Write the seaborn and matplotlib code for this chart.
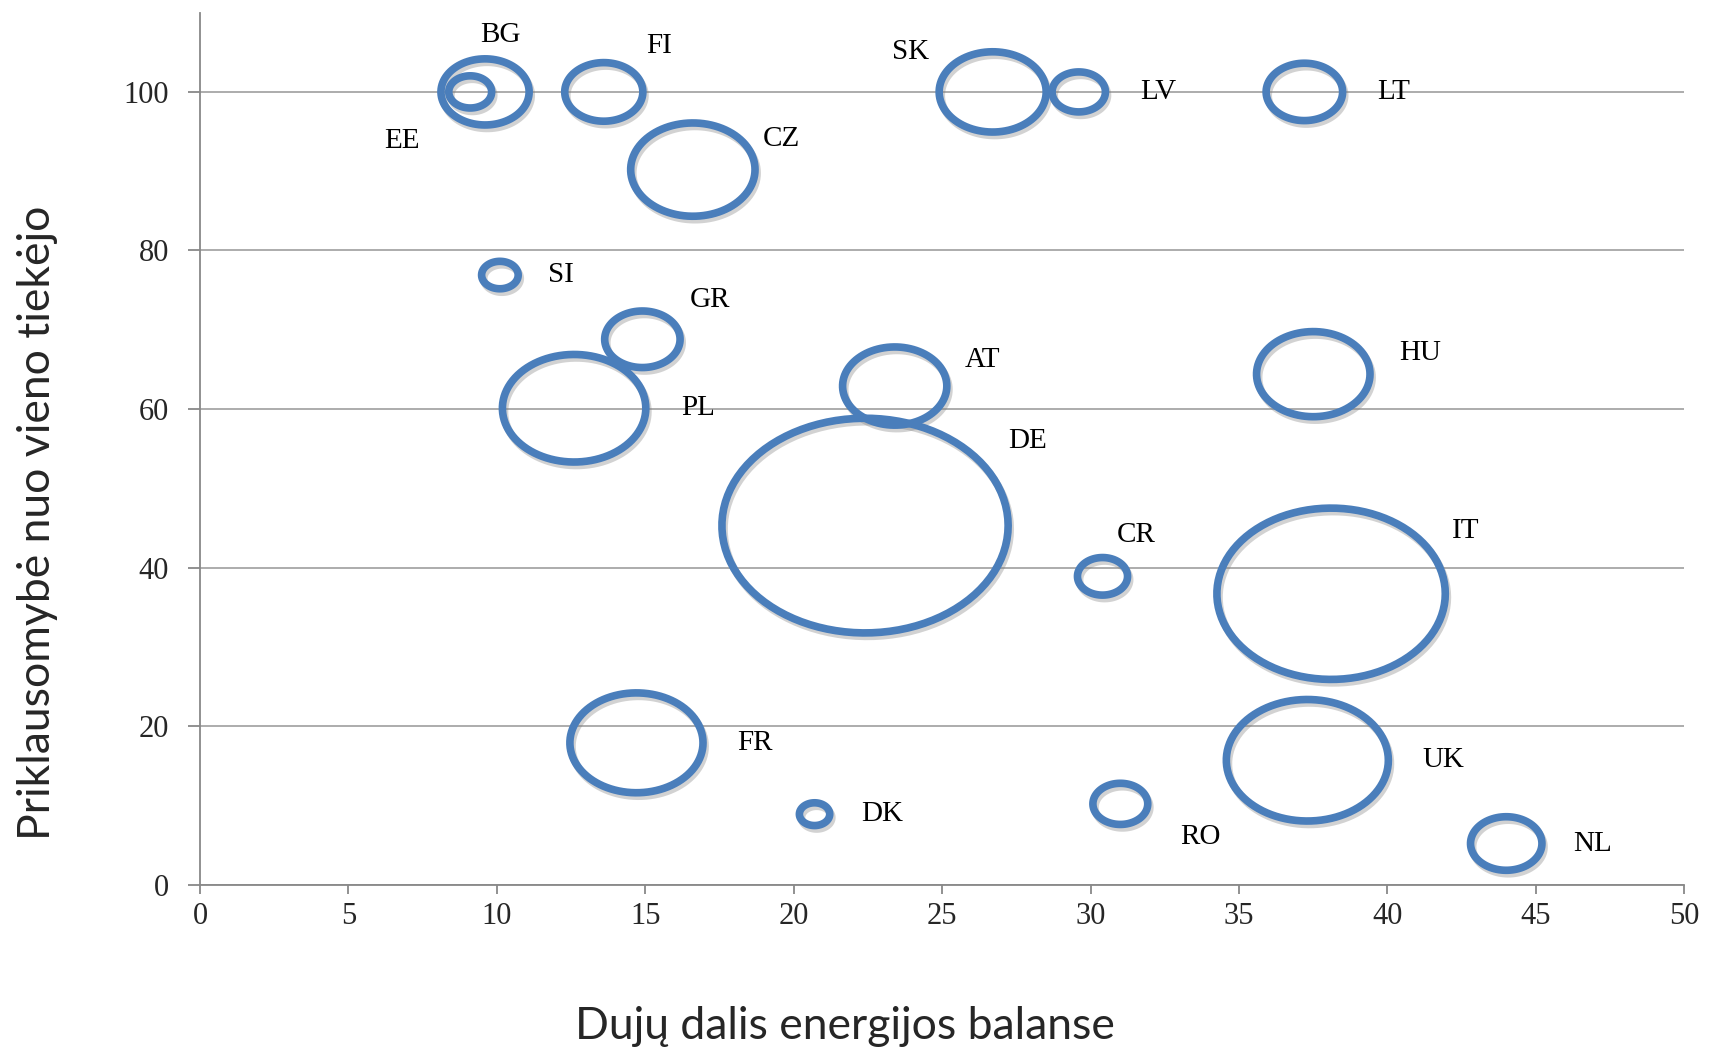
import numpy as np
import pandas as pd
import matplotlib
matplotlib.use("Agg")
import matplotlib.pyplot as plt
import matplotlib.patheffects as pe
from matplotlib.path import Path
import seaborn as sns

# Data
countries = ["EE", "BG", "FI", "CZ", "SK", "LV", "LT", "SI", "GR", "PL",
             "AT", "HU", "DE", "CR", "IT", "FR", "UK", "DK", "RO", "NL"]
gas_share = [9.1, 9.6, 13.6, 16.6, 26.7, 29.6, 37.2, 10.1, 14.9, 12.6,
             23.4, 37.5, 22.4, 30.4, 38.1, 14.7, 37.3, 20.7, 31.0, 44.0]
dependency = [100, 100, 100, 90.2, 100, 100, 100, 76.9, 68.8, 60.1,
              62.9, 64.4, 45.3, 38.9, 36.7, 17.9, 15.7, 8.9, 10.2, 5.2]
bubble_value = [2.2, 9.3, 7.3, 18.5, 13.7, 3.4, 7.0, 1.6, 6.8, 24.6,
                13.0, 15.4, 98.0, 3.0, 62.4, 21.2, 31.4, 1.1, 3.6, 6.1]

x_ticks = [0, 5, 10, 15, 20, 25, 30, 35, 40, 45, 50]
y_ticks = [0, 20, 40, 60, 80, 100]

# label offsets (points) relative to bubble centre
label_offsets = {
    "BG": (11, 41), "EE": (-49, -35), "FI": (40, 33), "CZ": (64, 22),
    "SK": (-59, 29), "LV": (57, 0), "LT": (64, 0), "SI": (44, 0),
    "GR": (49, 28), "PL": (89, 0), "AT": (63, 19), "HU": (77, 15),
    "DE": (117, 61), "CR": (24, 30), "IT": (97, 45), "FR": (85, 0),
    "UK": (98, 0), "DK": (49, 0), "RO": (58, -24), "NL": (62, 0),
}

df = pd.DataFrame({"country": countries, "x": gas_share,
                   "y": dependency, "v": bubble_value})

sns.set_style("white")
plt.rcParams["font.family"] = ["Liberation Serif", "DejaVu Serif"]

fig = plt.figure(figsize=(17.1, 10.52), dpi=100)
ax = fig.add_axes([0.117, 0.159, 0.868, 0.829])

# ellipse shaped marker (bubbles are wider than tall in the original)
t = np.linspace(0, 2 * np.pi, 100)
ellipse = Path(np.column_stack([0.5 * np.cos(t), 0.375 * np.sin(t)]), closed=True)

ring_lw = 5.5
px_per_unit = 0.868 * 1710 / 50
vmax = max(bubble_value)
smax = (np.sqrt(vmax) * px_per_unit * 0.72 - ring_lw) ** 2

sns.scatterplot(data=df, x="x", y="y", size="v", sizes=(0, smax),
                size_norm=(0, vmax), marker=ellipse, legend=False, ax=ax)
coll = ax.collections[0]
coll.set_facecolor("none")
coll.set_edgecolor("#4A7EBB")
coll.set_linewidth(ring_lw)
coll.set_path_effects([
    pe.SimpleLineShadow(offset=(1.5, -2.5), shadow_color="#808080", alpha=0.35),
    pe.Normal(),
])

for c, x, y in zip(countries, gas_share, dependency):
    ax.annotate(c, (x, y), xytext=label_offsets[c], textcoords="offset points",
                ha="center", va="center", fontsize=21, color="black")

ax.set_xlim(0, 50)
ax.set_ylim(0, 110)
ax.set_xticks(x_ticks)
ax.set_yticks(y_ticks)
ax.tick_params(axis="both", labelsize=22, color="#888888", width=1.3,
               direction="out", bottom=True, left=True)
ax.tick_params(axis="x", length=6.5, pad=6)
ax.tick_params(axis="y", length=8.5, pad=14)
ax.yaxis.grid(True, color="#A6A6A6", linewidth=1.3)
ax.set_axisbelow(True)
for side in ["top", "right"]:
    ax.spines[side].set_visible(False)
for side in ["left", "bottom"]:
    ax.spines[side].set_color("#888888")
    ax.spines[side].set_linewidth(1.3)

ax.set_xlabel("")
ax.set_ylabel("")
fig.text(0.494, 0.024, "Dujų dalis energijos balanse", ha="center",
         va="center", fontsize=32, family=["Lato", "DejaVu Sans"])
fig.text(0.022, 0.503, "Priklausomybė nuo vieno tiekėjo", ha="center",
         va="center", rotation=90, fontsize=32,
         family=["Lato", "DejaVu Sans"])

fig.savefig("out.png", dpi=100)
